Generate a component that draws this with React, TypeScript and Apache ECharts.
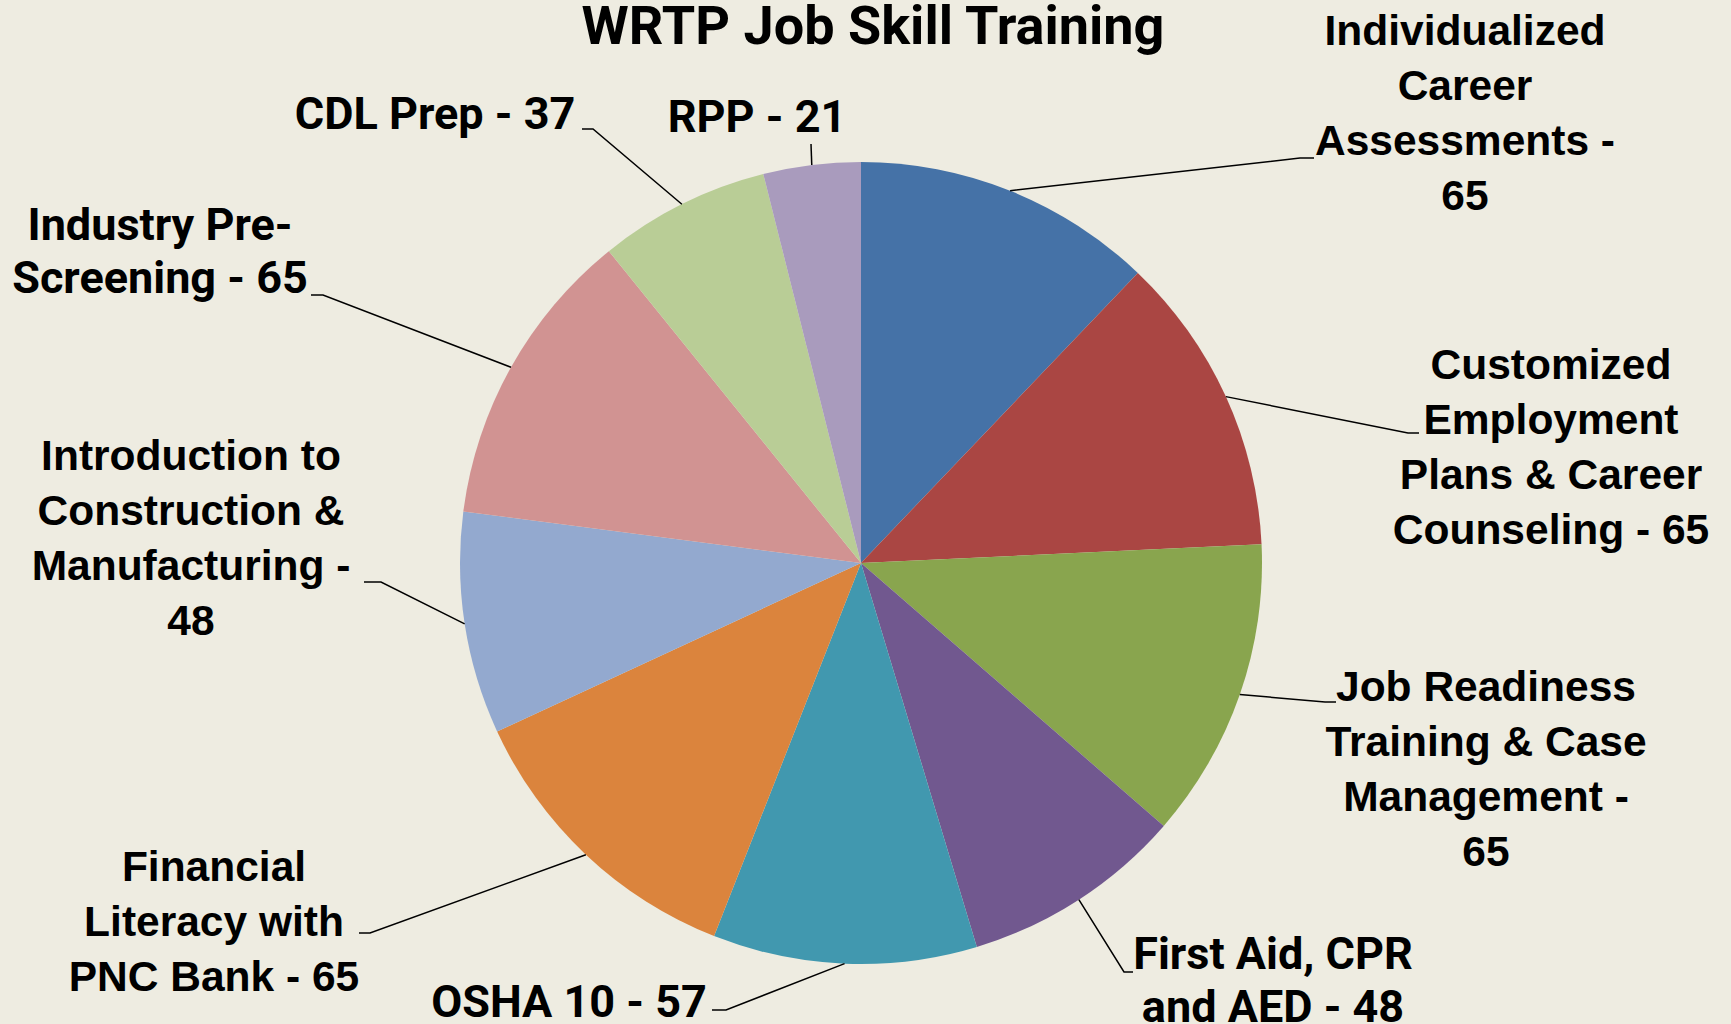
import React, { useEffect, useRef } from 'react';
import * as echarts from 'echarts';

// ---- data ----
const chartTitle = 'WRTP Job Skill Training';
const categories = [
  'Individualized Career Assessments',
  'Customized Employment Plans & Career Counseling',
  'Job Readiness Training & Case Management',
  'First Aid, CPR and AED',
  'OSHA 10',
  'Financial Literacy with PNC Bank',
  'Introduction to Construction & Manufacturing',
  'Industry Pre-Screening',
  'CDL Prep',
  'RPP',
];
const values = [65, 65, 65, 48, 57, 65, 48, 65, 37, 21];

// ---- styles / layout ----
const colors = ['#4572A7', '#AA4643', '#89A54E', '#71588F', '#4198AF', '#DB843D', '#93A9CF', '#D19392', '#B9CD96', '#A99BBD'];
const bg = '#EEECE1';
const CX = 861;
const CY = 563;
const R = 401;
// words that start a new line in each label
const labelBreaks: string[][] = [
  ['Career', 'Assessments', '65'],
  ['Employment', 'Plans', 'Counseling'],
  ['Training', 'Management', '65'],
  ['and'],
  [],
  ['Literacy', 'PNC'],
  ['Construction', 'Manufacturing', '48'],
  ['Screening'],
  [],
  [],
];
const labelCondensed = [false, false, false, true, true, false, false, true, true, true];
const labelPos: [number, number][] = [
  [1465, 113],
  [1551, 447],
  [1486, 769],
  [1273, 980],
  [569, 1001],
  [214, 921],
  [191, 538],
  [160, 251],
  [435, 113],
  [757, 116],
];
const leaderElbow: [number, number][] = [
  [1300, 158],
  [1408, 433],
  [1325, 702],
  [1124, 972],
  [726, 1010],
  [370, 933],
  [381, 582],
  [323, 295],
  [593, 129],
  [811, 144],
];
const leaderEnd: [number, number][] = [
  [1314, 158],
  [1419, 433],
  [1336, 702],
  [1133, 972],
  [712, 1010],
  [359, 933],
  [364, 582],
  [311, 295],
  [582, 129],
  [811, 144],
];

const wideFont = "'Liberation Sans', Arial, sans-serif";
const narrowFont = "Roboto, 'Liberation Sans', sans-serif";

const wrap = (s: string, marks: string[]) =>
  marks.reduce((t, m) => (t.includes(' ' + m) ? t.replace(' ' + m, '\n' + m) : t.replace(m, '\n' + m)), s);

export default function App() {
  const ref = useRef<HTMLDivElement>(null);
  useEffect(() => {
    document.body.style.margin = '0';
    if (!ref.current) return;
    const chart = echarts.init(ref.current, undefined, { renderer: 'svg' });

    const total = values.reduce((a, b) => a + b, 0);
    let acc = 0;
    const leaders = values.map((v, i) => {
      const mid = ((acc + v / 2) / total) * Math.PI * 2;
      acc += v;
      const p0 = [CX + R * Math.sin(mid), CY - R * Math.cos(mid)];
      return {
        type: 'polyline',
        silent: true,
        z: 10,
        shape: { points: [p0, leaderElbow[i], leaderEnd[i]] },
        style: { stroke: '#000', lineWidth: 1.5, fill: null },
      };
    });

    chart.setOption({
      animation: false,
      backgroundColor: bg,
      title: {
        text: chartTitle,
        left: 868,
        textAlign: 'center',
        top: -7,
        textStyle: { fontFamily: narrowFont, fontWeight: 'bold', fontSize: 54, color: '#000' },
      },
      graphic: leaders,
      series: [
        {
          type: 'pie',
          center: [CX, CY],
          radius: R,
          startAngle: 90,
          clockwise: true,
          avoidLabelOverlap: false,
          itemStyle: { borderWidth: 0 },
          emphasis: { disabled: true },
          labelLine: { show: false },
          label: {
            show: true,
            position: 'outside',
            color: '#000',
            fontWeight: 'bold',
            align: 'center',
            formatter: (p: any) => wrap(`${p.name} - ${p.value}`, labelBreaks[p.dataIndex]),
          },
          labelLayout: (p: any) => ({
            x: labelPos[p.dataIndex][0],
            y: labelPos[p.dataIndex][1],
            align: 'center',
            verticalAlign: 'middle',
          }),
          data: values.map((v, i) => ({
            value: v,
            name: categories[i],
            itemStyle: { color: colors[i] },
            label: labelCondensed[i]
              ? { fontFamily: narrowFont, fontSize: 45, lineHeight: 53 }
              : { fontFamily: wideFont, fontSize: 42.5, lineHeight: 55 },
          })),
        },
      ],
    });
    return () => chart.dispose();
  }, []);
  return <div ref={ref} style={{ width: 1731, height: 1024, background: bg }} />;
}
